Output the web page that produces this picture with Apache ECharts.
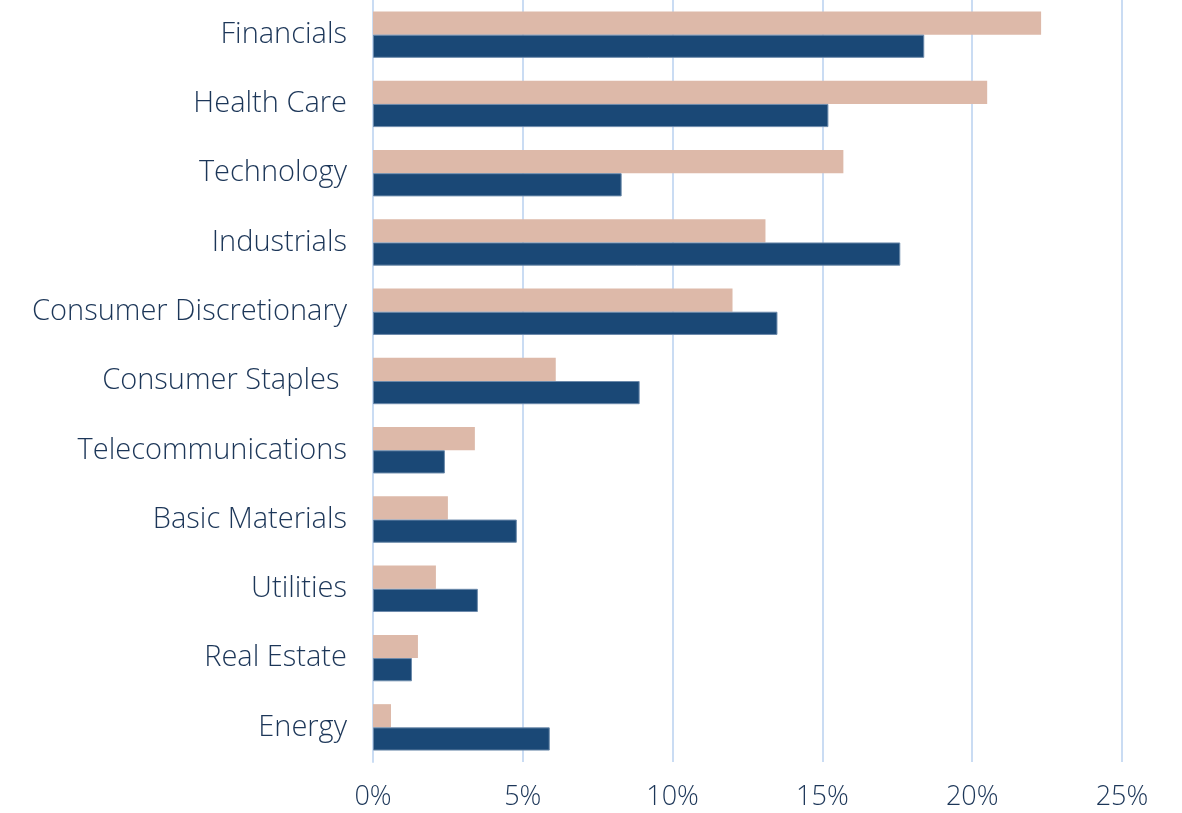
<!DOCTYPE html>
<html>
<head>
<meta charset="utf-8">
<title>Sector weights</title>
<script src="https://cdn.jsdelivr.net/npm/echarts@6/dist/echarts.min.js"></script>
<style>
  html, body { margin: 0; padding: 0; background: #fff; }
  #main { width: 1182px; height: 813px; }
</style>
</head>
<body>
<div id="main"></div>
<script>
  // sectors, top to bottom
  var sectors = ['Financials', 'Health Care', 'Technology', 'Industrials', 'Consumer Discretionary',
    'Consumer Staples ', 'Telecommunications', 'Basic Materials', 'Utilities', 'Real Estate', 'Energy'];
  // tan bars (upper bar of each pair)
  var seriesA = [22.3, 20.5, 15.7, 13.1, 12.0, 6.1, 3.4, 2.5, 2.1, 1.5, 0.6];
  // navy bars (lower bar of each pair)
  var seriesB = [18.4, 15.2, 8.3, 17.6, 13.5, 8.9, 2.4, 4.8, 3.5, 1.3, 5.9];
  var xTicks = [0, 5, 10, 15, 20, 25];

  var textColor = '#1c3658';
  var fontFam = '"Open Sans", sans-serif';

  var myChart = echarts.init(document.getElementById('main'));
  var option = {
    animation: false,
    grid: { left: 373, right: 60, top: 0, bottom: 51 },
    xAxis: {
      type: 'value',
      min: xTicks[0],
      max: xTicks[xTicks.length - 1],
      interval: 5,
      axisLine: { show: false },
      axisTick: { show: false },
      splitLine: { lineStyle: { color: '#cadcf3', width: 2 } },
      axisLabel: {
        formatter: '{value}%',
        color: textColor,
        fontSize: 27,
        fontWeight: 300,
        fontFamily: fontFam,
        margin: 22
      }
    },
    yAxis: {
      type: 'category',
      data: sectors,
      inverse: true,
      axisLine: { lineStyle: { color: '#cadcf3', width: 2 } },
      axisTick: { length: 10, lineStyle: { color: '#cadcf3', width: 2 } },
      axisLabel: {
        color: textColor,
        fontSize: 29,
        fontWeight: 300,
        fontFamily: fontFam,
        margin: 26
      }
    },
    series: [
      {
        name: 'A',
        type: 'bar',
        data: seriesA,
        barGap: '0%',
        barCategoryGap: '33%',
        itemStyle: { color: '#ddb9a9' }
      },
      {
        name: 'B',
        type: 'bar',
        data: seriesB,
        barGap: '0%',
        barCategoryGap: '33%',
        itemStyle: { color: '#1a4876', borderColor: '#6c8aab', borderWidth: 1 }
      }
    ]
  };
  myChart.setOption(option);
</script>
</body>
</html>
